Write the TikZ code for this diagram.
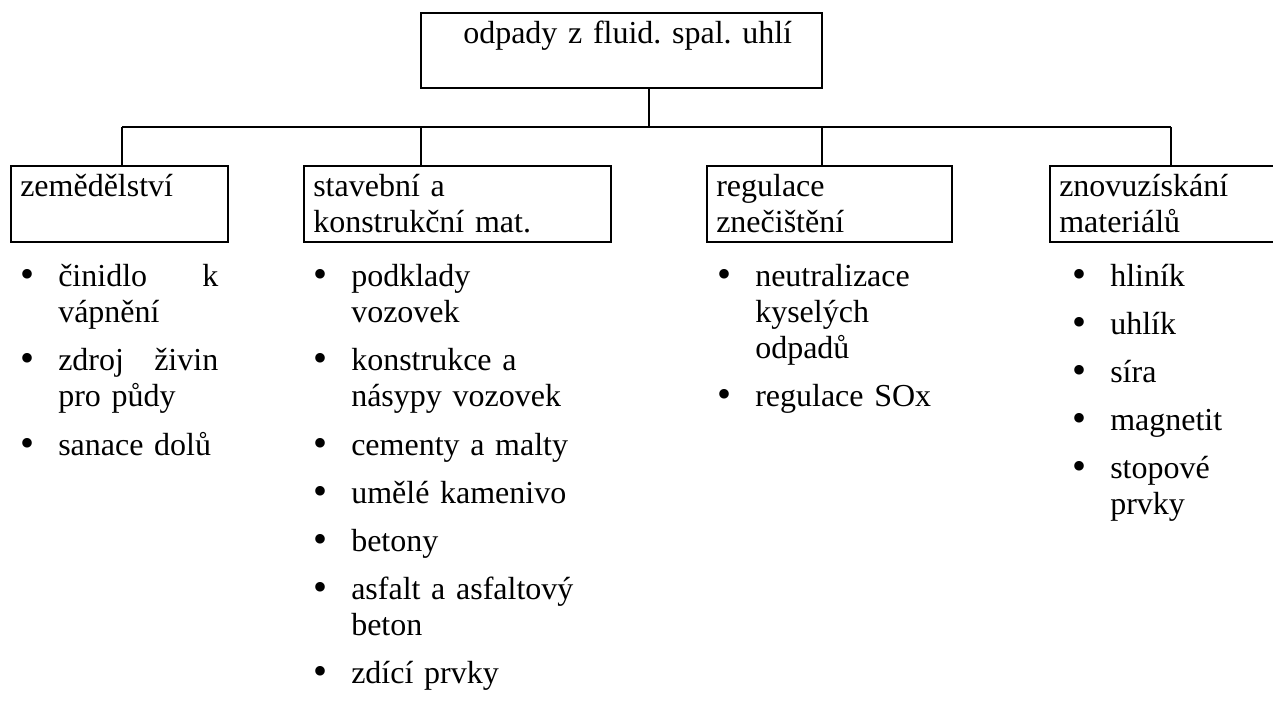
\documentclass[tikz,border=0pt]{standalone}
\usepackage{fontspec}
\setmainfont{Liberation Serif}
\usetikzlibrary{positioning,fit}

\tikzset{
  box/.style={draw, line width=1pt, inner sep=0pt},
  head/.style={anchor=base west, inner sep=0pt, text width=320pt},
  entry/.style={anchor=base west, inner sep=0pt, text width=#1},
  entry/.default=180pt,
  conn/.style={line width=1pt},
}
\newcommand{\bul}{\llap{\makebox[28pt][l]{\raisebox{-0.04em}{\fontsize{30}{30}\selectfont\textbullet}}}}

\begin{document}
\begin{tikzpicture}[x=0.75pt, y=-0.75pt, font=\fontsize{24}{27}\selectfont\frenchspacing]
    \useasboundingbox (0,0) rectangle (1273,700);

    % Root box
    \node[box, fit={(421,13) (822,88)}] (root) {};
    \node[head] (root-t) at (463,43) {odpady z fluid. spal. uhlí};

    % Category boxes
    \node[box, fit={(11,166) (228,242)}] (agri) {};
    \node[head] (agri-t) at (20,196) {zemědělství};
    \node[box, fit={(304,166) (611,242)}] (build) {};
    \node[head] (build-t) at (313,196) {stavební a\\konstrukční mat.};
    \node[box, fit={(707,166) (952,242)}] (pollut) {};
    \node[head] (pollut-t) at (716,196) {regulace\\znečištění};
    \node[box, fit={(1050,166) (1280,242)}] (recov) {};
    \node[head] (recov-t) at (1059,196) {znovuzískání\\materiálů};

    % Connectors
    \coordinate (bus) at (649,127);
    \coordinate (d1) at (122,127);
    \coordinate (d2) at (421,127);
    \coordinate (d3) at (822,127);
    \coordinate (d4) at (1171,127);
    \draw[conn] (root.south -| bus) -- (bus);
    \draw[conn] (d1) -- (d4);
    \draw[conn] (d1) -- (agri.north -| d1);
    \draw[conn] (d2) -- (build.north -| d2);
    \draw[conn] (d3) -- (pollut.north -| d3);
    \draw[conn] (d4) -- (recov.north -| d4);

    % Items: zemedelstvi
    \node[entry=120pt] (agri-1) at (58,286) {\bul činidlo \hfill k\\vápnění};
    \node[entry=120pt] (agri-2) at (58,370) {\bul zdroj \hfill živin\\pro půdy};
    \node[entry=120pt] (agri-3) at (58,455) {\bul sanace dolů};

    % Items: stavebni a konstrukcni mat.
    \node[entry] (build-1) at (351,286) {\bul podklady\\vozovek};
    \node[entry] (build-2) at (351,370) {\bul konstrukce a\\násypy vozovek};
    \node[entry] (build-3) at (351,455) {\bul cementy a malty};
    \node[entry] (build-4) at (351,503) {\bul umělé kamenivo};
    \node[entry] (build-5) at (351,551) {\bul betony};
    \node[entry] (build-6) at (351,599) {\bul asfalt a asfaltový\\beton};
    \node[entry] (build-7) at (351,683) {\bul zdící prvky};

    % Items: regulace znecisteni
    \node[entry] (pollut-1) at (755,286) {\bul neutralizace\\kyselých\\odpadů};
    \node[entry] (pollut-2) at (755,406) {\bul regulace SOx};

    % Items: znovuziskani materialu
    \node[entry] (recov-1) at (1110,286) {\bul hliník};
    \node[entry] (recov-2) at (1110,334) {\bul uhlík};
    \node[entry] (recov-3) at (1110,382) {\bul síra};
    \node[entry] (recov-4) at (1110,430) {\bul magnetit};
    \node[entry] (recov-5) at (1110,478) {\bul stopové\\prvky};
\end{tikzpicture}
\end{document}
